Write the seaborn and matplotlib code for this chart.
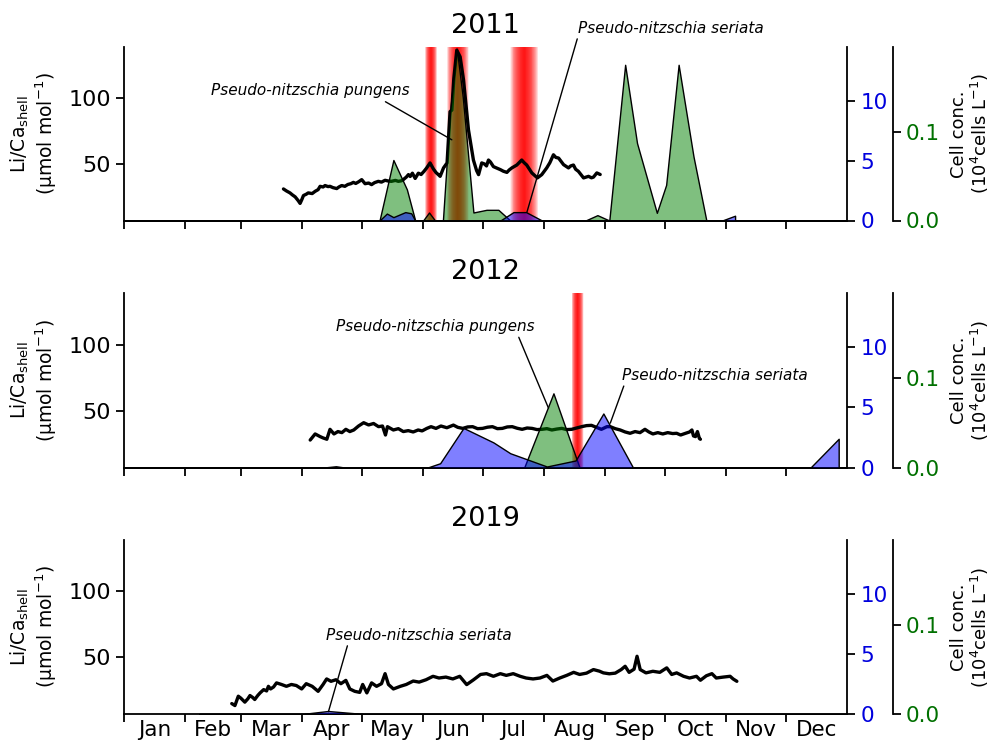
import numpy as np
import pandas as pd
import matplotlib
matplotlib.use("Agg")
import matplotlib.pyplot as plt
import seaborn as sns

# ---------------- data ----------------
years = ["2011", "2012", "2019"]
month_labels = ["Jan", "Feb", "Mar", "Apr", "May", "Jun",
                "Jul", "Aug", "Sep", "Oct", "Nov", "Dec"]
month_start = [0, 31, 59, 90, 120, 151, 181, 212, 243, 273, 304, 334]
year_len = 365

# Li/Ca shell (umol/mol) by day of year
lica_2011_day = [80.5, 82, 83.8, 85, 86.4, 88, 88.9, 89.8, 90.6, 92,
                 93, 95, 96.5, 98, 99, 100.5, 101.5, 103, 104, 105.5,
                 107.4, 108.5, 109.9, 111.5, 113, 114.5, 115.8, 117, 118.5, 120,
                 121.7, 123.5, 125, 126.5, 128.4, 130, 131.8, 133.5, 135, 137,
                 138.5, 140, 141, 142.5, 143.6, 144.5, 145.6, 147, 148.6, 150,
                 151.5, 152.8, 154.5, 156.2, 157.5, 158.7, 159.6, 161.3, 163.1, 164.6,
                 165.5, 166.5, 168, 169.7, 171.4, 173.9, 176.4, 178, 179, 180.6,
                 182, 183, 184, 185, 186.5, 188, 190, 191.5, 193.3, 194.5,
                 195.8, 198.3, 200.8, 202, 203.3, 205.9, 208.7, 210.9, 213.4, 215,
                 216.8, 218, 219.4, 221.9, 224.4, 225.5, 226.9, 228, 229.4, 232,
                 234.5, 236, 237, 238.7, 240.4]
lica_2011_val = [31, 29.5, 28, 26.5, 25, 22, 20, 23, 26, 27,
                 28, 27.5, 29.2, 30.5, 33, 32.5, 33.6, 32.8, 33, 32,
                 31.3, 32.5, 33.6, 33, 34.4, 35, 36, 35.2, 36.5, 38.1,
                 35, 35.5, 34.3, 35.8, 36.8, 36.2, 37.6, 37, 36.8, 37.5,
                 36.8, 37.2, 38.1, 40, 41.9, 40.5, 43, 39, 43, 42,
                 44.5, 47, 50.8, 46.2, 43.5, 41.9, 40.6, 47, 50.8, 89.8,
                 91, 115, 136.6, 131.5, 114, 76, 53, 45, 41.9, 50.8,
                 50, 48.5, 53, 51.5, 48, 47, 45.7, 44.5, 43.6, 45.5,
                 47, 49.2, 53, 51, 49.2, 43.2, 39.4, 41.9, 47, 51,
                 57, 55, 54.5, 49.5, 47, 48.5, 49.2, 46, 44.4, 39.4,
                 40.6, 39.5, 40, 43.2, 42]

lica_2012_day = [94, 96.5, 99, 100.5, 102.4, 104, 106, 108, 110, 112,
                 114, 116, 118.4, 121, 123.5, 126, 128.5, 130.5, 132, 133,
                 136, 138.5, 141, 143.5, 146, 148.5, 150.5, 152.9, 155, 157.5,
                 160, 163, 166.3, 168.5, 171, 173.5, 176, 178.5, 181, 183.5,
                 186, 188.5, 191, 193.5, 196, 198.5, 201, 203.5, 206, 208.5,
                 211, 213.5, 216, 218.5, 221, 223.5, 226, 228.5, 231, 233.5,
                 236, 238.5, 241, 243.8, 245.5, 248, 250.5, 253, 255.5, 258,
                 260.5, 263, 265, 267, 269.5, 272, 274.5, 277, 279, 281,
                 283.5, 285.5, 286.7, 287.5, 288.5, 289.5, 290.5, 291]
lica_2012_val = [27.9, 32.5, 30.5, 29.5, 28.5, 36, 32.5, 34.3, 33.5, 36,
                 34.3, 35.5, 38.5, 41, 39.3, 40.4, 38, 38.5, 31.7, 38,
                 35.5, 36.5, 34.3, 35, 34, 35.5, 34.8, 36.7, 38, 36.7,
                 38.5, 37.2, 39.2, 37.5, 36.7, 37.8, 38, 36.5, 36.7, 37.6,
                 38, 36.5, 36.7, 37.8, 38, 36.8, 36, 37, 36.7, 35.8,
                 36, 36.5, 35.5, 36.2, 36.7, 35.8, 36, 37, 38, 38.8,
                 39, 37.5, 36, 38, 38, 36.5, 35.5, 34, 33, 34.3,
                 33.5, 36, 34, 32.5, 33.5, 32.5, 33.5, 32.8, 33, 31.7,
                 33, 34, 35.5, 31, 30.5, 34.3, 29, 28.5]

lica_2019_day = [54.4, 56, 57.7, 59, 61, 62.5, 63.6, 65, 66, 67.5,
                 68.7, 70.5, 72, 72.9, 74, 75.5, 77, 79.5, 82, 84.5,
                 87, 89.7, 92, 95, 98, 100.5, 102.3, 104.5, 107, 109.5,
                 112, 114, 116.5, 119, 120.5, 122.6, 125, 127.5, 130, 131.8,
                 133.5, 136, 139.5, 142.5, 146, 149, 152.5, 156, 159, 162.5,
                 166, 169.5, 173, 176.5, 180, 183, 186.5, 190, 193, 196.5,
                 200, 203, 206.5, 210, 213.5, 216.5, 220, 223.5, 227, 230,
                 233.5, 237, 240, 242, 245, 248, 251, 253, 255, 257.5,
                 259, 260.6, 263.5, 267, 270.5, 274, 276.5, 279, 282.5, 285.5,
                 289, 291, 294, 296.8, 299, 302.5, 306, 307.5, 309.4]
lica_2019_val = [14.9, 13.4, 20.5, 19, 16, 18.5, 21, 19.5, 18, 21,
                 23, 25.5, 24.5, 28, 26, 27.5, 30.6, 29.4, 28, 29.4,
                 28.6, 26, 30, 28, 24.2, 29.4, 33.6, 31.8, 33, 30,
                 32.5, 26, 24.2, 23.4, 29.4, 23, 30.6, 28, 30, 37.6,
                 29.4, 26, 28, 29.4, 32, 31.2, 33, 35.6, 34.3, 35,
                 33.6, 35.6, 29.3, 33, 37, 37.6, 35.6, 37.6, 36.3, 37.6,
                 35.6, 34.3, 33.6, 34.3, 36.3, 32, 34.3, 36.3, 38.6, 37,
                 38, 40.7, 39.5, 38.2, 37.5, 38, 40.7, 43.2, 38.6, 41,
                 50.8, 40.7, 38.2, 39.4, 38.6, 42, 37, 38.2, 35.6, 34.3,
                 35.6, 32.6, 36, 37.6, 34.3, 35, 35.6, 33.6, 31.8]

# Pseudo-nitzschia pungens (green axis)
pungens_2011_day = [0, 129, 136, 142.8, 147, 151, 154, 157, 161, 164.6, 168, 171,
                    176.4, 183, 189, 195, 233, 239, 245, 253, 259, 269, 273.7, 280,
                    287.5, 294, 365]
pungens_2011_val = [0, 0, 0.068, 0.035, 0, 0, 0.009, 0, 0, 0.122, 0.193, 0.139,
                    0.009, 0.012, 0.012, 0, 0, 0.006, 0, 0.175, 0.087, 0.0086, 0.040, 0.175,
                    0.072, 0, 0]
pungens_2012_day = [0, 200, 202, 216.8, 230, 365]
pungens_2012_val = [0, 0, 0, 0.083, 0, 0]
pungens_2019_day = []
pungens_2019_val = []

# Pseudo-nitzschia seriata (blue axis)
seriata_2011_day = [0, 129, 132.7, 136, 142, 145, 147, 190, 196.6, 203, 211, 302, 308.5]
seriata_2011_val = [0, 0, 0.58, 0.28, 0.7, 0.6, 0, 0, 0.7, 0.7, 0, 0, 0.4]
seriata_2012_day = [23, 100, 107, 112, 153, 159.6, 171.4, 186.5, 195, 213.5,
                    228, 242, 257, 346.5, 360.8]
seriata_2012_val = [0, 0, 0.12, 0, 0, 0.37, 3.3, 2.1, 1.2, 0.1,
                    0.6, 4.5, 0, 0, 2.4]
seriata_2019_day = [38, 90, 103, 121, 365]
seriata_2019_val = [0, 0, 0.25, 0, 0]

# red event bands (day of year)
band_2011_start = [152, 163, 195]
band_2011_end = [158, 174, 209]
band_2012_start = [226]
band_2012_end = [232]
band_2019_start = []
band_2019_end = []

lica = {"2011": (lica_2011_day, lica_2011_val),
        "2012": (lica_2012_day, lica_2012_val),
        "2019": (lica_2019_day, lica_2019_val)}
pungens = {"2011": (pungens_2011_day, pungens_2011_val),
           "2012": (pungens_2012_day, pungens_2012_val),
           "2019": (pungens_2019_day, pungens_2019_val)}
seriata = {"2011": (seriata_2011_day, seriata_2011_val),
           "2012": (seriata_2012_day, seriata_2012_val),
           "2019": (seriata_2019_day, seriata_2019_val)}
bands = {"2011": (band_2011_start, band_2011_end),
         "2012": (band_2012_start, band_2012_end),
         "2019": (band_2019_start, band_2019_end)}

# annotations: (year, species, text xy, point xy, ha, relpos)
annotations = [
    ("2011", "pungens", (94, 0.1456), (165.5, 0.0907), "center", (0.85, 0)),
    ("2011", "seriata", (229.3, 16.08), (203.4, 0.69), "left", (0.0, 0)),
    ("2012", "pungens", (157, 0.1576), (214.3, 0.0665), "center", (0.915, 0)),
    ("2012", "seriata", (251.5, 7.67), (245.5, 3.7), "left", (0.015, 0)),
    ("2019", "seriata", (102, 6.58), (103.2, 0.19), "left", (0.12, 0)),
]
species_names = {"pungens": "Pseudo-nitzschia pungens",
                 "seriata": "Pseudo-nitzschia seriata"}

# ---------------- plotting ----------------
sns.set_style("ticks")
plt.rcParams["font.family"] = ["DejaVu Sans"]
for k in ["text.color", "axes.labelcolor", "xtick.color", "ytick.color", "axes.edgecolor"]:
    plt.rcParams[k] = "black"

W, H = 995, 752
fig = plt.figure(figsize=(W / 100, H / 100), dpi=100)

panel_px = [(47, 220.5), (293, 467.7), (540, 714)]
left_px, right_px = 124, 847

month_end = month_start[1:] + [year_len]
month_mid = [(a + b) / 2 for a, b in zip(month_start, month_end)]

GREEN_FACE = (0.0, 0.5, 0.0, 0.5)
BLUE_FACE = (0.0, 0.0, 1.0, 0.5)
TICK_FS = 15.5


def draw_band(ax, a, b, n=30, alpha=0.07):
    c = (a + b) / 2.0
    h = (b - a) / 2.0
    for k in range(n):
        f = (k + 1) / n
        ax.axvspan(c - h * f, c + h * f, color="red", alpha=alpha, lw=0, zorder=1)


for i, yr in enumerate(years):
    top, bot = panel_px[i]
    ax = fig.add_axes([left_px / W, 1 - bot / H, (right_px - left_px) / W, (bot - top) / H])
    ax_g = ax.twinx()
    ax_b = ax.twinx()

    # bands
    for a, b in zip(*bands[yr]):
        draw_band(ax, a, b)

    # Li/Ca line
    d, v = lica[yr]
    df = pd.DataFrame({"day": d, "val": v})
    sns.lineplot(data=df, x="day", y="val", ax=ax, color="black", lw=2.4,
                 zorder=3, sort=False)

    # pungens (green)
    d, v = pungens[yr]
    if len(d):
        ax_g.fill_between(d, v, 0, facecolor=GREEN_FACE, edgecolor="black", lw=1.0)
    # seriata (blue)
    d, v = seriata[yr]
    if len(d):
        ax_b.fill_between(d, v, 0, facecolor=BLUE_FACE, edgecolor="black", lw=1.0)

    ax.set_xlim(0, year_len)
    ax.set_ylim(7, 139)
    ax_g.set_ylim(0, 0.195)
    ax_b.set_ylim(0, 14.5)

    ax.set_yticks([50, 100])
    ax_b.set_yticks([0, 5, 10])
    ax_g.set_yticks([0.0, 0.1])
    ax_g.set_yticklabels(["0.0", "0.1"])

    ax.set_xticks(month_start)
    ax.set_xticklabels([])
    ax.set_xticks(month_mid, minor=True)
    if i == 2:
        ax.set_xticklabels(month_labels, minor=True)
    else:
        ax.set_xticklabels([], minor=True)
    ax.tick_params(axis="x", which="major", length=6, width=1.3)
    ax.tick_params(axis="x", which="minor", length=0, labelsize=TICK_FS, pad=4)
    ax.tick_params(axis="y", length=6, width=1.3, labelsize=TICK_FS + 0.5)
    ax_b.tick_params(axis="y", length=6, width=1.3, labelsize=TICK_FS, labelcolor="#0000dd")
    ax_g.tick_params(axis="y", length=6, width=1.3, labelsize=TICK_FS, labelcolor="#007000")

    for s in ["top", "right"]:
        ax.spines[s].set_visible(False)
    for s in ["left", "bottom"]:
        ax.spines[s].set_linewidth(1.3)
    for a2 in (ax_g, ax_b):
        for s in ["left", "top", "bottom"]:
            a2.spines[s].set_visible(False)
        a2.spines["right"].set_linewidth(1.3)
    ax_g.spines["right"].set_position(("outward", 33))

    ax.set_xlabel("")
    ax.set_ylabel("Li/Ca$_{\\mathrm{shell}}$\n(µmol mol$^{-1}$)", fontsize=13.5, linespacing=1.1)
    ax.yaxis.set_label_coords(-0.09, 0.5)
    ax_g.set_ylabel("Cell conc.\n(10$^4$cells L$^{-1}$)", fontsize=13, linespacing=1.05)
    ax_g.yaxis.set_label_coords(1.143, 0.5)
    ax_b.set_ylabel("")
    ax.set_title(yr, fontsize=19.5, pad=10)

    for (ayr, sp, txy, pxy, ha, relpos) in annotations:
        if ayr != yr:
            continue
        tgt = ax_g if sp == "pungens" else ax_b
        tgt.annotate(species_names[sp], xy=pxy, xytext=txy, xycoords="data",
                     textcoords="data", ha=ha, va="center", fontsize=11,
                     style="italic", annotation_clip=False, zorder=10,
                     arrowprops=dict(arrowstyle="-", color="black", lw=1.0,
                                     shrinkA=0, shrinkB=0, relpos=relpos))

fig.savefig("out.png", dpi=100)
